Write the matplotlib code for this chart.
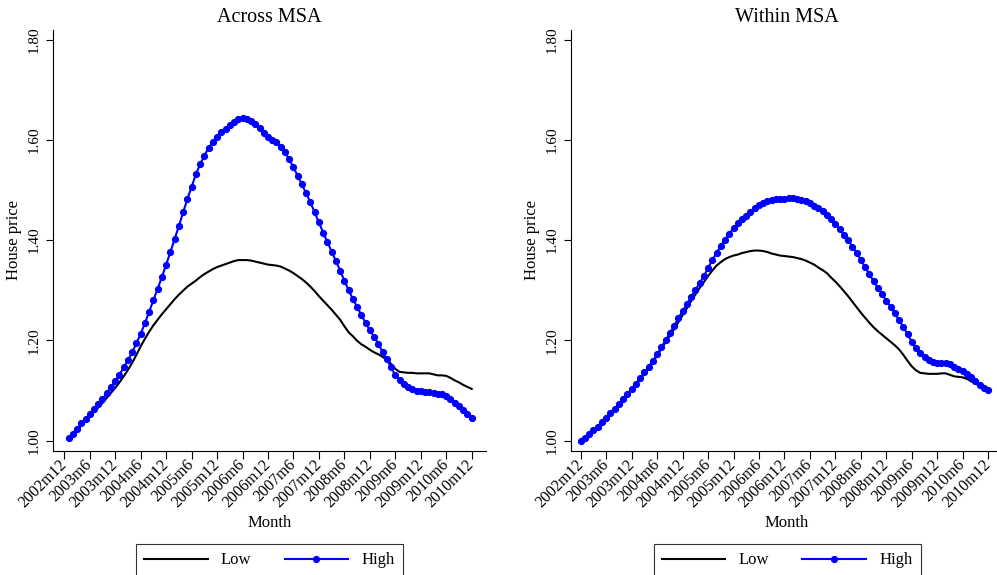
import matplotlib
matplotlib.use("Agg")
import matplotlib.pyplot as plt
import numpy as np

plt.rcParams["font.family"] = ["Liberation Serif", "DejaVu Serif"]

# ---- data -------------------------------------------------------------
# month index: 0 = 2002m12 ... 96 = 2010m12
tick_months = list(range(0, 97, 6))
tick_labels = ["2002m12", "2003m6", "2003m12", "2004m6", "2004m12", "2005m6",
               "2005m12", "2006m6", "2006m12", "2007m6", "2007m12", "2008m6",
               "2008m12", "2009m6", "2009m12", "2010m6", "2010m12"]

# Across MSA: 2003m1 .. 2010m12
across_months = list(range(1, 97))
across_high = [
    1.006, 1.014, 1.023, 1.034, 1.043, 1.052, 1.062, 1.072, 1.083, 1.094,
    1.107, 1.119, 1.131, 1.146, 1.160, 1.176, 1.194, 1.213, 1.234, 1.257,
    1.280, 1.303, 1.326, 1.351, 1.376, 1.402, 1.428, 1.455, 1.482, 1.506,
    1.531, 1.551, 1.568, 1.584, 1.595, 1.606, 1.615, 1.621, 1.629, 1.635,
    1.641, 1.643, 1.641, 1.637, 1.631, 1.624, 1.614, 1.606, 1.600, 1.595,
    1.586, 1.575, 1.561, 1.545, 1.528, 1.511, 1.493, 1.475, 1.455, 1.435,
    1.415, 1.396, 1.377, 1.358, 1.339, 1.319, 1.300, 1.282, 1.267, 1.250,
    1.235, 1.220, 1.207, 1.193, 1.177, 1.162, 1.146, 1.130, 1.121, 1.113,
    1.106, 1.102, 1.099, 1.098, 1.097, 1.096, 1.094, 1.093, 1.092, 1.089,
    1.082, 1.074, 1.068, 1.060, 1.052, 1.045]
across_low = [
    1.006, 1.013, 1.021, 1.030, 1.039, 1.048, 1.057, 1.066, 1.075, 1.085,
    1.095, 1.105, 1.116, 1.128, 1.141, 1.155, 1.171, 1.188, 1.203, 1.217,
    1.230, 1.241, 1.252, 1.262, 1.272, 1.282, 1.291, 1.299, 1.307, 1.313,
    1.319, 1.326, 1.332, 1.337, 1.342, 1.346, 1.349, 1.352, 1.355, 1.358,
    1.360, 1.360, 1.360, 1.359, 1.357, 1.355, 1.353, 1.351, 1.350, 1.349,
    1.347, 1.343, 1.339, 1.334, 1.328, 1.322, 1.315, 1.307, 1.298, 1.288,
    1.279, 1.270, 1.261, 1.251, 1.241, 1.228, 1.216, 1.208, 1.199, 1.192,
    1.187, 1.181, 1.176, 1.172, 1.167, 1.161, 1.153, 1.143, 1.137, 1.136,
    1.135, 1.135, 1.134, 1.134, 1.134, 1.134, 1.132, 1.130, 1.130, 1.129,
    1.125, 1.120, 1.116, 1.111, 1.107, 1.103]

# Within MSA: 2002m12 .. 2010m12
within_months = list(range(0, 97))
within_high = [
    1.000, 1.006, 1.013, 1.020, 1.027, 1.036, 1.045, 1.054, 1.063, 1.073,
    1.083, 1.093, 1.103, 1.113, 1.124, 1.136, 1.147, 1.159, 1.172, 1.186,
    1.200, 1.214, 1.229, 1.244, 1.258, 1.272, 1.286, 1.300, 1.314, 1.328,
    1.344, 1.360, 1.374, 1.388, 1.401, 1.413, 1.423, 1.433, 1.441, 1.448,
    1.455, 1.463, 1.469, 1.474, 1.477, 1.479, 1.481, 1.482, 1.482, 1.483,
    1.483, 1.482, 1.480, 1.477, 1.473, 1.468, 1.463, 1.457, 1.450, 1.441,
    1.432, 1.422, 1.411, 1.400, 1.387, 1.375, 1.360, 1.346, 1.332, 1.318,
    1.305, 1.292, 1.279, 1.267, 1.254, 1.240, 1.227, 1.212, 1.197, 1.184,
    1.174, 1.167, 1.161, 1.156, 1.154, 1.154, 1.155, 1.152, 1.147, 1.142,
    1.139, 1.133, 1.127, 1.119, 1.111, 1.105, 1.100]
within_low = [
    1.000, 1.006, 1.012, 1.019, 1.026, 1.035, 1.044, 1.053, 1.062, 1.072,
    1.082, 1.092, 1.102, 1.112, 1.122, 1.134, 1.145, 1.157, 1.170, 1.183,
    1.196, 1.209, 1.222, 1.236, 1.250, 1.264, 1.278, 1.291, 1.304, 1.316,
    1.328, 1.339, 1.349, 1.356, 1.362, 1.366, 1.369, 1.371, 1.374, 1.376,
    1.378, 1.379, 1.379, 1.378, 1.376, 1.373, 1.371, 1.369, 1.368, 1.367,
    1.366, 1.364, 1.362, 1.359, 1.355, 1.351, 1.345, 1.340, 1.334, 1.325,
    1.317, 1.308, 1.298, 1.288, 1.277, 1.266, 1.255, 1.245, 1.235, 1.226,
    1.218, 1.211, 1.204, 1.197, 1.190, 1.182, 1.171, 1.159, 1.148, 1.140,
    1.135, 1.134, 1.133, 1.133, 1.133, 1.134, 1.134, 1.131, 1.128, 1.127,
    1.126, 1.123, 1.118, 1.114, 1.109, 1.104, 1.100]

y_ticks = [1.00, 1.20, 1.40, 1.60, 1.80]

# ---- figure -----------------------------------------------------------
W, H = 997, 575
fig = plt.figure(figsize=(W / 100, H / 100), dpi=100)


def px_axes(x0, x1, ytop, ybot):
    return fig.add_axes([x0 / W, 1 - ybot / H, (x1 - x0) / W, (ybot - ytop) / H])


panels = [
    (px_axes(53, 486, 30, 450.7), "Across MSA", across_months, across_low,
     across_high, (-2.66, 99.37)),
    (px_axes(570.7, 1002.6, 30, 450.7), "Within MSA", within_months, within_low,
     within_high, (-2.36, 99.4)),
]

for ax, title, months, low, high, xlim in panels:
    ax.plot(months, low, color="black", lw=1.5, label="Low", zorder=2)
    ax.plot(months, high, color="#0000ff", lw=1.5, marker="o", ms=4.2,
            mec="#0000ff", mfc="#0000ff", label="High", zorder=3)

    ax.set_xlim(*xlim)
    ax.set_ylim(0.9797, 1.819)

    ax.set_yticks(y_ticks)
    ax.set_yticklabels([f"{v:.2f}" for v in y_ticks], rotation=90, va="center",
                       fontsize=11)
    ax.set_xticks(tick_months)
    ax.set_xticklabels(tick_labels, rotation=45, ha="right", va="center",
                       rotation_mode="anchor", fontsize=11.5)
    ax.tick_params(axis="y", direction="out", length=5, width=0.8, pad=4,
                   color="black")
    ax.tick_params(axis="x", direction="out", length=5.5, width=0.8, pad=3,
                   color="black")

    for side in ("top", "right"):
        ax.spines[side].set_visible(False)
    for side in ("left", "bottom"):
        ax.spines[side].set_linewidth(0.8)
        ax.spines[side].set_color("black")

    ax.set_title(title, fontsize=14.5, pad=6)
    ax.set_ylabel("House price", fontsize=12)
    ax.yaxis.set_label_coords(-0.09, 0.5)
    ax.yaxis.label.set_va("center")
    ax.set_xlabel("Month", fontsize=12)
    ax.xaxis.set_label_coords(0.5, -0.172)
    ax.xaxis.label.set_va("center")

    bb = ax.get_position()
    cx = bb.x0 + (486 - 53) / 2 / W if title == "Across MSA" else (570.7 + 433 / 2) / W
    leg = fig.legend(handles=ax.get_lines(), labels=["Low", "High"], ncol=2,
                     loc="upper center", bbox_to_anchor=(cx, 1 - 544 / H),
                     frameon=True, fancybox=False, edgecolor="black",
                     fontsize=12, handlelength=3.8, handletextpad=0.8,
                     columnspacing=2.0, borderpad=0.5, borderaxespad=0,
                     numpoints=1)
    leg.get_frame().set_linewidth(0.8)

fig.savefig("out.png", dpi=100)
